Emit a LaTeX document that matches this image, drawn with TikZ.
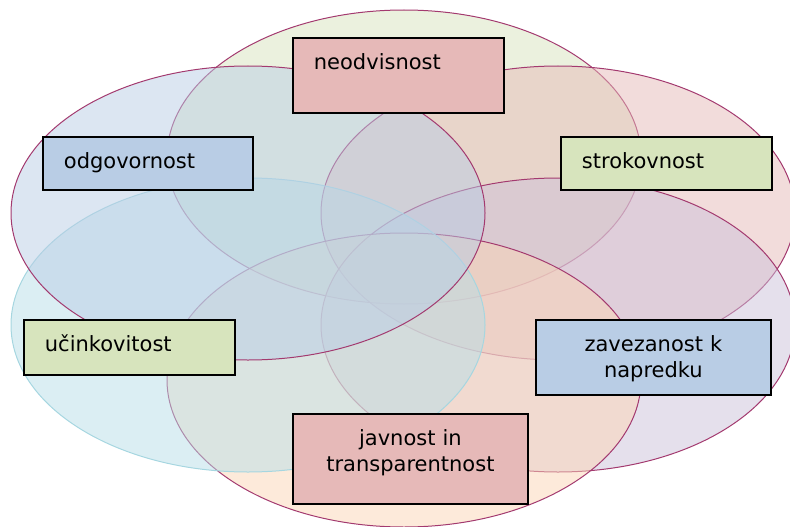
\documentclass[tikz,border=0pt]{standalone}
\usepackage{fontspec}
\setmainfont{DejaVu Sans}
\usepackage{tikz}
\definecolor{vennline}{RGB}{163,58,111}
\definecolor{aqualine}{RGB}{166,214,224}
\definecolor{greenlight}{RGB}{215,228,189}
\definecolor{bluelight}{RGB}{185,205,229}
\definecolor{redlight}{RGB}{230,185,184}
\definecolor{aqualight}{RGB}{183,222,232}
\definecolor{purplelight}{RGB}{204,193,218}
\definecolor{orangelight}{RGB}{252,213,181}

\begin{document}
\begin{tikzpicture}[x=1pt,y=-1pt,
    venn/.style={draw=vennline,line width=1pt,fill opacity=0.5},
    tag/.style={rectangle,draw=black,line width=1.8pt,anchor=north west,
        inner xsep=21pt,inner ysep=0pt,text height=32pt,
        font=\fontsize{21}{25.5}\selectfont}]
    \useasboundingbox (0,0) rectangle (790,527);

    % Ellipses
    \draw[venn,fill=greenlight] (404,157) ellipse (237 and 147);
    \draw[venn,fill=redlight] (558,213) ellipse (237 and 147);
    \draw[venn,fill=purplelight] (558,325) ellipse (237 and 147);
    \draw[venn,fill=orangelight] (404,380) ellipse (237 and 147);
    \draw[venn,fill=aqualight,draw=aqualine] (248,325) ellipse (237 and 147);
    \draw[venn,fill=bluelight] (248,213) ellipse (237 and 147);

    % Boxes
    \node[tag,fill=redlight,text width=169pt,align=left,text depth=43pt]
        (neodvisnost) at (292,37) {neodvisnost};
    \node[tag,fill=bluelight,text width=168pt,align=left,text depth=21pt]
        (odgovornost) at (42,136) {odgovornost};
    \node[tag,fill=greenlight,text width=169pt,align=left,text depth=21pt]
        (strokovnost) at (560,136) {strokovnost};
    \node[tag,fill=greenlight,text width=169pt,align=left,text depth=23pt]
        (ucinkovitost) at (23,319) {učinkovitost};
    \node[tag,fill=bluelight,text width=193pt,align=center,text depth=43pt]
        (napredek) at (535,319) {zavezanost k\\napredku};
    \node[tag,fill=redlight,text width=193pt,align=center,text depth=58pt]
        (javnost) at (292,413) {javnost in\\transparentnost};

\end{tikzpicture}
\end{document}
